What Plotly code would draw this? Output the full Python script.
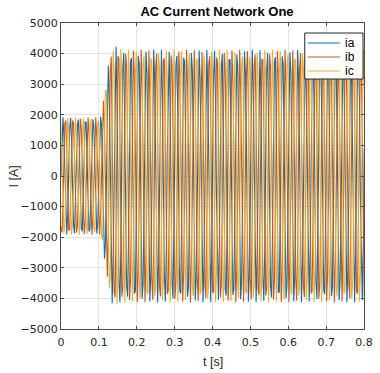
import numpy as np
import plotly.graph_objects as go

# --- values ---
f_grid = 50.0                 # Hz, fundamental
Ts = 0.00255                  # s, output sample time of the logged signal
t_end = 0.8
env_t = [0.0, 0.104, 0.110, 0.118, 0.126, 0.134, 0.145, 0.165, 0.8]       # s
env_a = [1920, 1920, 2300, 3000, 3700, 4150, 4250, 4130, 4130]            # A (peak)
phase_deg = [0, -120, 120]
names = ["ia", "ib", "ic"]
colors = ["#0072BD", "#D95319", "#EDB120"]
x_ticks = [0, 0.1, 0.2, 0.3, 0.4, 0.5, 0.6, 0.7, 0.8]
x_tick_text = ["0", "0.1", "0.2", "0.3", "0.4", "0.5", "0.6", "0.7", "0.8"]
y_ticks = [-5000, -4000, -3000, -2000, -1000, 0, 1000, 2000, 3000, 4000, 5000]

W, H = 380, 373
ML, MR, MT, MB = 61, 7, 23, 44
PW, PH = W - ML - MR, H - MT - MB

t = np.arange(0, t_end + Ts / 2, Ts)
amp = np.interp(t, env_t, env_a)

fig = go.Figure()
for name, ph, col in zip(names, phase_deg, colors):
    i = amp * np.sin(2 * np.pi * f_grid * t + np.deg2rad(ph))
    fig.add_trace(go.Scatter(x=t, y=i, mode="lines", name=name,
                             line=dict(color=col, width=1.1), showlegend=False))

FONT = "Liberation Sans, Arial"
TICKFONT = "DejaVu Sans"
axis_common = dict(
    showgrid=True, gridcolor="#e3e3e3", gridwidth=1,
    showline=True, linecolor="#4d4d4d", linewidth=1, mirror="allticks",
    ticks="inside", ticklen=3, tickcolor="#4d4d4d",
    zeroline=False, ticklabeloverflow="allow",
    tickfont=dict(family=TICKFONT, size=11, color="#262626"),
)

def px_x(px):
    return (px - ML) / PW

def px_y(py):
    return (H - MB - py) / PH

# custom legend box
shapes = [dict(type="rect", xref="paper", yref="paper",
               x0=px_x(312), x1=px_x(372), y0=px_y(79), y1=px_y(33),
               fillcolor="white", line=dict(color="#262626", width=1), layer="above")]
annotations = []
for k, (name, col) in enumerate(zip(names, colors)):
    yy = 43 + 14 * k
    shapes.append(dict(type="line", xref="paper", yref="paper",
                       x0=px_x(315), x1=px_x(348), y0=px_y(yy), y1=px_y(yy),
                       line=dict(color=col, width=1.2), layer="above"))
    annotations.append(dict(xref="paper", yref="paper", x=px_x(351), y=px_y(yy),
                            xanchor="left", yanchor="middle", text=name, showarrow=False,
                            font=dict(family=FONT, size=12, color="#000000")))

# axis titles
annotations.append(dict(xref="paper", yref="paper", x=px_x(ML + PW / 2), y=px_y(362),
                        xanchor="center", yanchor="middle", text="t [s]", showarrow=False,
                        font=dict(family=FONT, size=12.5, color="#262626")))
annotations.append(dict(xref="paper", yref="paper", x=px_x(13), y=px_y(176),
                        xanchor="center", yanchor="middle", text="I [A]", showarrow=False,
                        textangle=-90,
                        font=dict(family=FONT, size=12.5, color="#262626")))

fig.update_layout(
    width=W, height=H,
    margin=dict(l=ML, r=MR, t=MT, b=MB),
    paper_bgcolor="white", plot_bgcolor="white",
    title=dict(text="<b>AC Current Network One</b>", x=(ML + PW / 2) / W, xanchor="center",
               y=1 - 11 / H, yanchor="middle",
               font=dict(family=FONT, size=13, color="#000000")),
    xaxis=dict(range=[0, 0.8], tickvals=x_ticks, ticktext=x_tick_text,
               ticklabelstandoff=3, **axis_common),
    yaxis=dict(range=[-5000, 5000], tickvals=y_ticks, **axis_common),
    shapes=shapes, annotations=annotations,
    showlegend=False,
)

fig.write_html("out.html")
